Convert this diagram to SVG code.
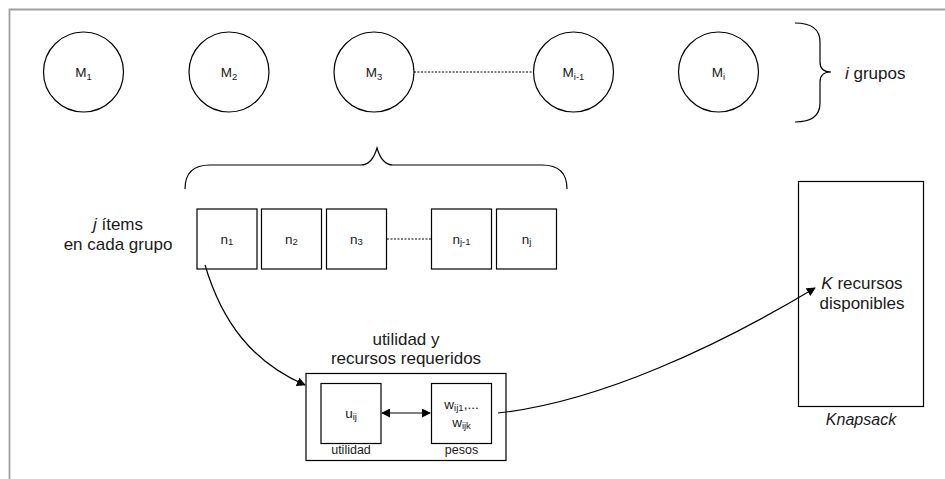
<svg xmlns="http://www.w3.org/2000/svg" width="945" height="479" viewBox="0 0 945 479">
  <style>
    .shape { fill: #ffffff; stroke: #000000; stroke-width: 1.2; }
    .line { fill: none; stroke: #000000; stroke-width: 1.2; }
    .dots { fill: none; stroke: #000000; stroke-width: 1; stroke-dasharray: 2 1.5; }
    text { font-family: "Liberation Sans", Arial, Helvetica, sans-serif; fill: #1a1a1a; }
    .lbl { font-size: 13.5px; text-anchor: middle; }
    .big { font-size: 17px; text-anchor: middle; }
    .cap { font-size: 12.5px; text-anchor: middle; }
    .sub { font-size: 9.5px; }
    .it { font-style: italic; }
  </style>
  <defs>
    <marker id="arrow" viewBox="0 0 10 10" refX="9" refY="5" markerWidth="9" markerHeight="9" markerUnits="userSpaceOnUse" orient="auto-start-reverse">
      <path d="M0,0 L10,5 L0,10 z" fill="#000000"/>
    </marker>
  </defs>

  <rect width="945" height="479" fill="#ffffff"/>
  <!-- page frame (top and left edges) -->
  <path d="M9.5,479 L9.5,9.5 L945,9.5" fill="none" stroke="#a0a0a0" stroke-width="1.8"/>

  <!-- groups -->
  <g id="group-M1">
    <circle class="shape" cx="83.5" cy="72" r="40"/>
    <text class="lbl" x="83.5" y="76.5">M<tspan class="sub" dy="3">1</tspan></text>
  </g>
  <g id="group-M2">
    <circle class="shape" cx="229" cy="72" r="40"/>
    <text class="lbl" x="229" y="76.5">M<tspan class="sub" dy="3">2</tspan></text>
  </g>
  <g id="group-M3">
    <circle class="shape" cx="374" cy="72" r="40"/>
    <text class="lbl" x="374" y="76.5">M<tspan class="sub" dy="3">3</tspan></text>
  </g>
  <g id="group-Mi-1">
    <circle class="shape" cx="573.5" cy="72" r="40"/>
    <text class="lbl" x="573.5" y="76.5">M<tspan class="sub" dy="3">i-1</tspan></text>
  </g>
  <g id="group-Mi">
    <circle class="shape" cx="718.5" cy="72" r="40"/>
    <text class="lbl" x="718.5" y="76.5">M<tspan class="sub" dy="3">i</tspan></text>
  </g>

  <!-- brace for the groups -->
  <g id="groups-brace">
    <path class="line" d="M795,23 Q820,23 820,42 L820,62 Q820,72 831,72 Q820,72 820,82 L820,103 Q820,122 795,122"/>
    <text class="big" x="845" y="79" style="text-anchor:start"><tspan class="it">i</tspan> grupos</text>
  </g>

  <!-- brace over the items of one group -->
  <g id="items-brace">
    <path class="line" d="M185,189 Q185,165 210,165 L361,165 Q372,165 377,148 Q382,165 393,165 L542,165 Q567,165 567,189"/>
  </g>

  <g id="items-label">
    <text class="big" x="118" y="230"><tspan class="it">j</tspan> ítems</text>
    <text class="big" x="118" y="250">en cada grupo</text>
  </g>

  <!-- items -->
  <g id="item-n1">
    <rect class="shape" x="197" y="209" width="60" height="60"/>
    <text class="lbl" x="227" y="244">n<tspan class="sub" dy="1">1</tspan></text>
  </g>
  <g id="item-n2">
    <rect class="shape" x="261.5" y="209" width="60" height="60"/>
    <text class="lbl" x="291.5" y="244">n<tspan class="sub" dy="1">2</tspan></text>
  </g>
  <g id="item-n3">
    <rect class="shape" x="326.5" y="209" width="60" height="60"/>
    <text class="lbl" x="356.5" y="244">n<tspan class="sub" dy="1">3</tspan></text>
  </g>
  <g id="item-nj-1">
    <rect class="shape" x="431.5" y="209" width="60" height="60"/>
    <text class="lbl" x="461.5" y="244">n<tspan class="sub" dy="1">j-1</tspan></text>
  </g>
  <g id="item-nj">
    <rect class="shape" x="496.5" y="209" width="60" height="60"/>
    <text class="lbl" x="526.5" y="244">n<tspan class="sub" dy="1">j</tspan></text>
  </g>

  <!-- utility and required resources -->
  <g id="item-detail">
    <text class="big" x="406" y="345">utilidad y</text>
    <text class="big" x="406" y="364">recursos requeridos</text>
    <rect class="shape" x="306" y="373.5" width="200" height="87"/>
  </g>
  <g id="utility">
    <rect class="shape" x="321" y="383.5" width="60" height="60"/>
    <text class="lbl" x="351" y="418">u<tspan class="sub" dy="2">ij</tspan></text>
    <text class="cap" x="351" y="454">utilidad</text>
  </g>
  <g id="weights">
    <rect class="shape" x="431.5" y="383.5" width="60" height="60"/>
    <text class="lbl" x="461.5" y="409">w<tspan class="sub" dy="2">ij1</tspan><tspan dy="-2">,...</tspan></text>
    <text class="lbl" x="461.5" y="427">w<tspan class="sub" dy="2">ijk</tspan></text>
    <text class="cap" x="461.5" y="454">pesos</text>
  </g>

  <!-- knapsack -->
  <g id="knapsack">
    <rect class="shape" x="798.5" y="181.5" width="125" height="225"/>
    <text class="big" x="862" y="289"><tspan class="it">K</tspan> recursos</text>
    <text class="big it" x="861" y="425" style="font-size:16px">Knapsack</text>
    <text class="big" x="862" y="309">disponibles</text>
  </g>

  <!-- connectors -->
  <g id="connectors">
    <line class="dots" x1="414" y1="72" x2="533" y2="72"/>
    <line class="dots" x1="387" y1="239" x2="431" y2="239"/>
    <path class="line" d="M205,265 C222,322 252,362 305,385" marker-end="url(#arrow)"/>
    <line class="line" x1="382" y1="413" x2="430" y2="413" marker-start="url(#arrow)" marker-end="url(#arrow)"/>
    <path class="line" d="M498,413 C600,402 720,345 815,288" marker-end="url(#arrow)"/>
  </g>
</svg>
